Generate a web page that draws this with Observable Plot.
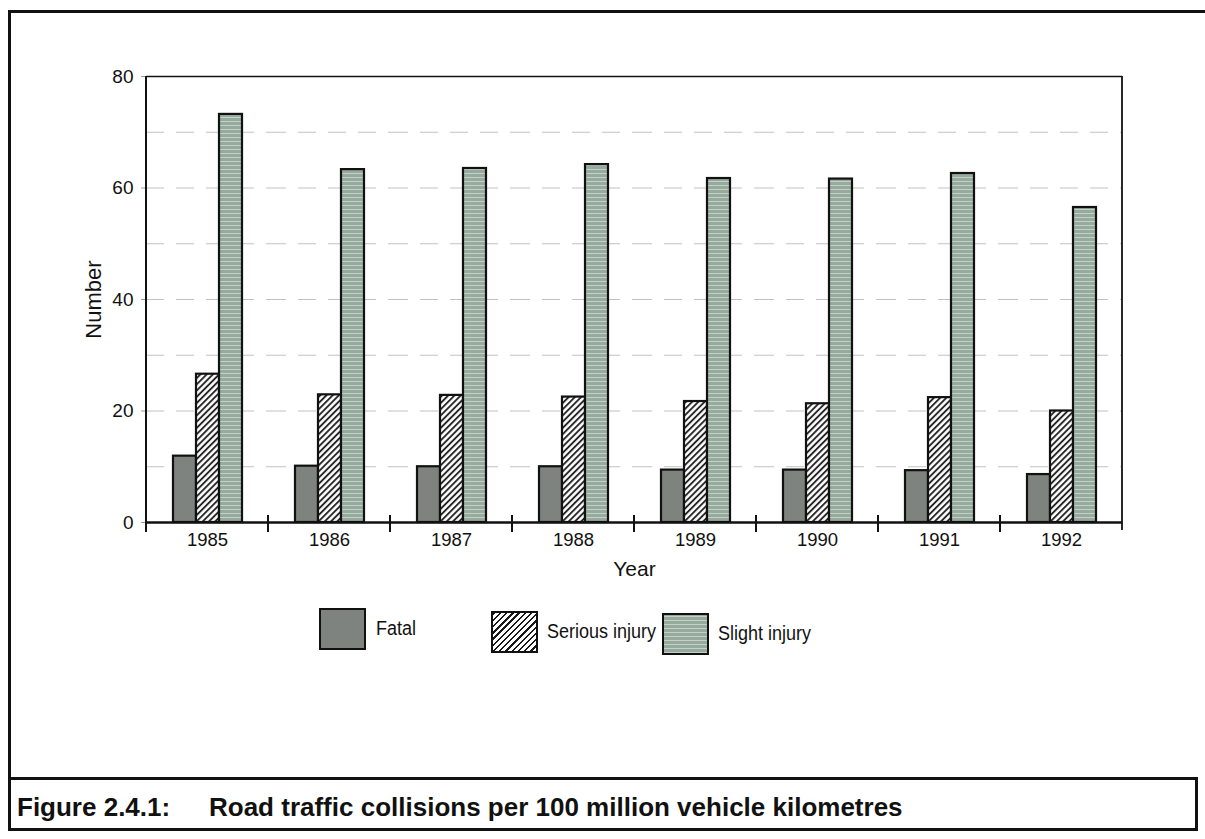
<!DOCTYPE html>
<html>
<head>
<meta charset="utf-8">
<script src="https://cdn.jsdelivr.net/npm/d3@7"></script>
<script src="https://cdn.jsdelivr.net/npm/@observablehq/plot@0.6"></script>
<style>
  html, body { margin: 0; padding: 0; background: #fff; }
  body { width: 1205px; height: 839px; position: relative; overflow: hidden;
         font-family: "Liberation Sans", Arial, Helvetica, sans-serif; color: #111; }
  #chart { position: absolute; left: 0; top: 0; }
  .line { position: absolute; background: #111; }
  .swatch { position: absolute; width: 43px; height: 38px; border: 2px solid #111; box-sizing: content-box; }
  .legend-label { position: absolute; font-size: 20px; white-space: nowrap; line-height: 20px; transform-origin: left center; transform: scaleX(0.9); }
  .caption { position: absolute; top: 792px; font-size: 26px; font-weight: bold; white-space: nowrap; line-height: 30px; }
</style>
</head>
<body>
<div id="chart"></div>

<!-- document frame -->
<div class="line" style="left:8px; top:10px; width:1197px; height:3px;"></div>
<div class="line" style="left:8px; top:10px; width:3px; height:820px;"></div>
<div class="line" style="left:8px; top:777px; width:1190px; height:3px;"></div>
<div class="line" style="left:8px; top:828px; width:1190px; height:3px;"></div>
<div class="line" style="left:1195px; top:777px; width:3px; height:54px;"></div>

<div id="legend"></div>
<div class="caption" style="left:17px;">Figure 2.4.1:</div>
<div class="caption" style="left:209px;">Road traffic collisions per 100 million vehicle kilometres</div>

<script>
// ---- data ----
const years = ["1985", "1986", "1987", "1988", "1989", "1990", "1991", "1992"];
const seriesNames = ["Fatal", "Serious injury", "Slight injury"];
const fatal   = [11.9, 10.1, 10.0, 10.0, 9.4, 9.4, 9.3, 8.6];
const serious = [26.6, 22.9, 22.8, 22.5, 21.7, 21.3, 22.4, 20.0];
const slight  = [73.2, 63.3, 63.5, 64.2, 61.7, 61.6, 62.6, 56.5];
const yTicks = [0, 20, 40, 60, 80];
const gridValues = [10, 20, 30, 40, 50, 60, 70];

const seriesValues = [fatal, serious, slight];
const rows = years.flatMap((year, i) =>
  seriesNames.map((s, k) => ({year, series: s, value: seriesValues[k][i]})));

const fills = {
  "Fatal": "#7e837f",
  "Serious injury": "url(#hatch)",
  "Slight injury": "url(#slightPat)"
};

const font = "'Liberation Sans', Arial, Helvetica, sans-serif";

const plot = Plot.plot({
  width: 1205,
  height: 600,
  marginLeft: 145,
  marginRight: 82,
  marginTop: 76,
  marginBottom: 78,
  style: {fontFamily: font, fontSize: "18px", color: "#111", background: "transparent", overflow: "visible"},
  fx: {domain: years, padding: 0},
  x: {domain: seriesNames, paddingInner: 0, paddingOuter: 1.05, axis: null},
  y: {domain: [0, 80]},
  marks: [
    Plot.gridY(gridValues, {stroke: "#666", strokeOpacity: 0.4, strokeDasharray: "18,12", strokeWidth: 1}),
    ...seriesNames.map(s => Plot.barY(rows.filter(d => d.series === s), {
      fx: "year", x: "series", y: "value", fill: fills[s], stroke: "#111", strokeWidth: 2.2
    })),
    Plot.ruleY([0], {stroke: "#111", strokeWidth: 2.5}),
    Plot.ruleY([80], {stroke: "#111", strokeWidth: 1.5}),
    Plot.axisY({ticks: yTicks, tickSize: 5, tickPadding: 8, label: null, stroke: "#999", fill: "#111", fontSize: 19}),
    Plot.axisY({ticks: [], label: "Number", labelAnchor: "center", labelOffset: 61, labelArrow: "none", fill: "#111", fontSize: 22}),
    Plot.axisFx({anchor: "bottom", tickSize: 0, tickPadding: 10, label: null, fill: "#111", fontSize: 18.5}),
    Plot.axisFx({anchor: "bottom", ticks: [], label: "Year", labelAnchor: "center", labelOffset: 53, fill: "#111", fontSize: 21})
  ]
});

document.getElementById("chart").appendChild(plot);

// patterns for the bar fills
const svg = d3.select(plot.tagName.toLowerCase() === "svg" ? plot : plot.querySelector("svg"));
const defs = svg.insert("defs", ":first-child");
const hatch = defs.append("pattern")
  .attr("id", "hatch").attr("patternUnits", "userSpaceOnUse")
  .attr("width", 4.4).attr("height", 4.4).attr("patternTransform", "rotate(45)");
hatch.append("rect").attr("width", 4.4).attr("height", 4.4).attr("fill", "#fff");
hatch.append("line").attr("x1", 1).attr("y1", 0).attr("x2", 1).attr("y2", 4.4)
  .attr("stroke", "#1a1a1a").attr("stroke-width", 1.8);

const sl = defs.append("pattern")
  .attr("id", "slightPat").attr("patternUnits", "userSpaceOnUse")
  .attr("width", 6).attr("height", 4);
sl.append("rect").attr("width", 6).attr("height", 4).attr("fill", "#97aa9e");
sl.append("rect").attr("y", 1).attr("width", 6).attr("height", 1).attr("fill", "#c3d1c8");

// axis line, right frame and boundary ticks derived from the plot's own scales
const fx = plot.scale("fx");
const y = plot.scale("y");
const step = fx.step ?? fx.bandwidth;
const xs = years.map(yr => fx.apply(yr));
const xEnd = xs[xs.length - 1] + step;
const y0 = y.apply(0), yTop = y.apply(80);
const g = svg.append("g").attr("stroke", "#111");
g.append("line").attr("x1", xs[0]).attr("x2", xs[0]).attr("y1", yTop).attr("y2", y0 + 10).attr("stroke-width", 2);
g.append("line").attr("x1", xEnd).attr("x2", xEnd).attr("y1", yTop).attr("y2", y0 + 8).attr("stroke-width", 1.8);
xs.slice(1).forEach(x => {
  g.append("line").attr("x1", x).attr("x2", x).attr("y1", y0 - 7).attr("y2", y0 + 10).attr("stroke-width", 2);
});

// legend (HTML, below the svg)
const legend = document.getElementById("legend");
const legendSwatch = {
  "Fatal": "background:#7e837f;",
  "Serious injury": "background: repeating-linear-gradient(135deg, #1a1a1a 0 1.7px, #fff 1.7px 4.4px);",
  "Slight injury": "background: repeating-linear-gradient(180deg, #97aa9e 0 1px, #c3d1c8 1px 2px, #97aa9e 2px 4px);"
};
const legendPos = [
  {sx: 319, sy: 608, tx: 376},
  {sx: 491, sy: 611, tx: 547},
  {sx: 662, sy: 613, tx: 718}
];
seriesNames.forEach((s, i) => {
  const p = legendPos[i];
  const sw = document.createElement("div");
  sw.className = "swatch";
  sw.style.cssText = `left:${p.sx}px; top:${p.sy}px; ${legendSwatch[s]}`;
  legend.appendChild(sw);
  const lb = document.createElement("div");
  lb.className = "legend-label";
  lb.style.left = p.tx + "px";
  lb.style.top = (p.sy + 10) + "px";
  lb.textContent = s;
  legend.appendChild(lb);
});
</script>
</body>
</html>
